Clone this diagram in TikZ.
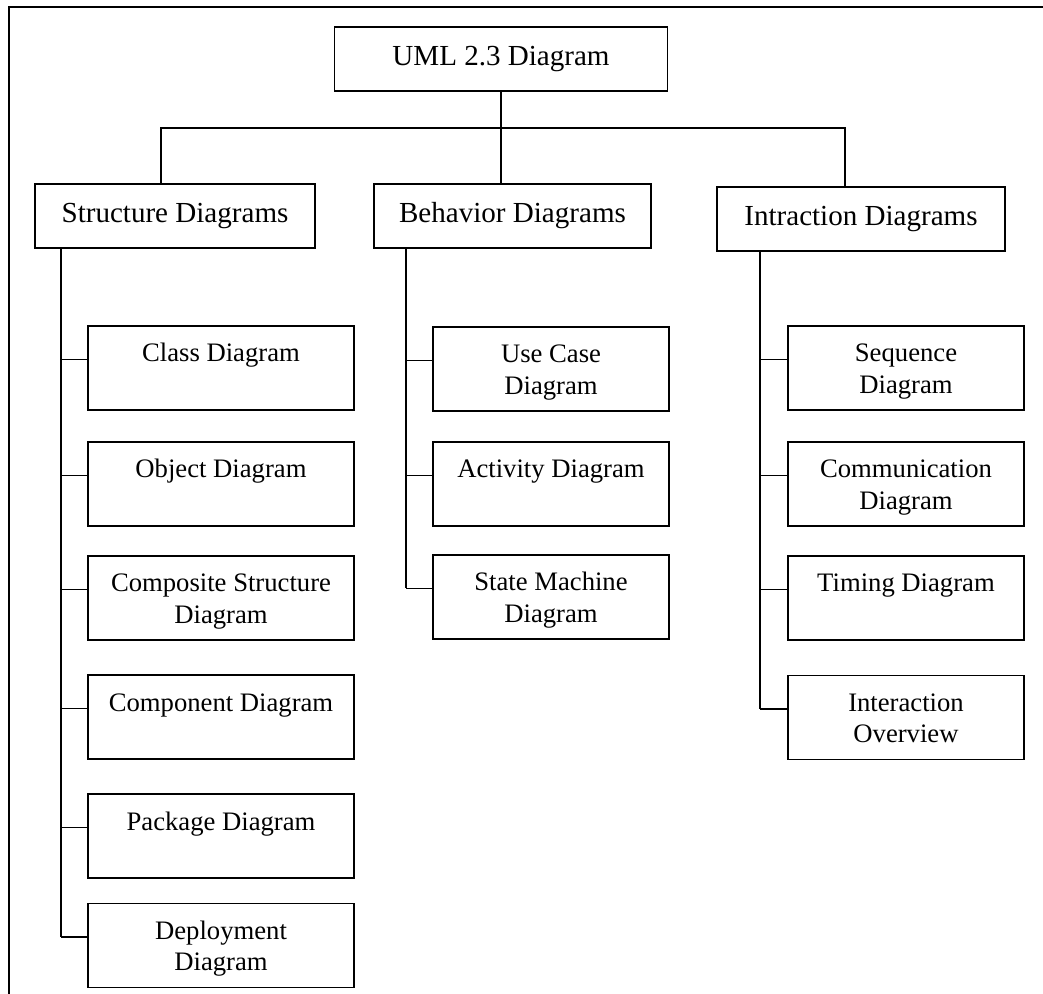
\documentclass[tikz,border=0pt]{standalone}
\usepackage{fontspec}
\setmainfont{Liberation Serif}
\usepackage{tikz}
\usetikzlibrary{
  positioning,
  calc
}
\tikzset{
  heading/.style={
    draw,
    line width=1.2pt,
    align=center,
    inner sep=0pt,
    minimum height=48pt,
    font=\fontsize{21.8}{25}\selectfont
  },
  leaf/.style={
    draw,
    line width=1.2pt,
    align=center,
    inner xsep=0pt,
    inner ysep=0pt,
    text height=27pt,
    text depth=36pt,
    font=\fontsize{20}{23.3}\selectfont
  },
  twolines/.style={
    text height=50.3pt,
    text depth=12.7pt
  },
  wideleaf/.style={
    leaf,
    minimum width=199.5pt
  },
  narrowleaf/.style={
    leaf,
    minimum width=177pt
  },
  branch/.style={
    line width=1.2pt
  },
  frame/.style={
    line width=1.4pt
  }
}

\begin{document}
\begin{tikzpicture}[x=0.75pt,y=-0.75pt]

  \useasboundingbox (0,0) rectangle (1043,994);

  % outer frame, cut off at right and bottom
  \draw[frame] (1043,7) -- (9,7) -- (9,994);

  % top level
  \node[heading, minimum width=249.75pt] at (501,59) (uml) {UML 2.3 Diagram};

  \node[heading, minimum width=210pt] at (175,216) (struct) {Structure Diagrams};
  \node[heading, minimum width=207.75pt] at (512.5,216) (behav) {Behavior Diagrams};
  \node[heading, minimum width=216pt] at (861,219) (intr) {Intraction Diagrams};

  \coordinate (barL) at (161,128);
  \coordinate (barR) at (845,128);

  \draw[branch] (uml.south) -- (uml.south |- behav.north);
  \draw[branch] (barL |- struct.north) -- (barL) -- (barR) -- (barR |- intr.north);

  % structure diagrams
  \node[wideleaf] at (221,368) (class) {Class Diagram};
  \node[wideleaf] at (221,484) (object) {Object Diagram};
  \node[wideleaf, twolines] at (221,598) (composite) {Composite Structure\\Diagram};
  \node[wideleaf] at (221,717) (component) {Component Diagram};
  \node[wideleaf] at (221,836) (package) {Package Diagram};
  \node[wideleaf, twolines] at (221,945.5) (deployment) {Deployment\\Diagram};

  % behavior diagrams
  \node[narrowleaf, twolines] at (551,369) (usecase) {Use Case\\Diagram};
  \node[narrowleaf] at (551,484) (activity) {Activity Diagram};
  \node[narrowleaf, twolines] at (551,597) (statemachine) {State Machine\\Diagram};

  % interaction diagrams
  \node[narrowleaf, twolines] at (906,368) (sequence) {Sequence\\Diagram};
  \node[narrowleaf, twolines] at (906,484) (communication) {Communication\\Diagram};
  \node[narrowleaf] at (906,598) (timing) {Timing Diagram};
  \node[narrowleaf, twolines] at (906,717.5) (overview) {Interaction\\Overview};

  % trunks
  \coordinate[right=20.25pt of struct.south west] (strunk);
  \coordinate[right=24.75pt of behav.south west] (btrunk);
  \coordinate[right=33pt of intr.south west] (itrunk);

  \foreach \leafname/\trunk in {
    class/strunk, object/strunk, composite/strunk,
    component/strunk, package/strunk, deployment/strunk,
    usecase/btrunk, activity/btrunk, statemachine/btrunk,
    sequence/itrunk, communication/itrunk, timing/itrunk, overview/itrunk%
  } {
    \coordinate (\leafname-in) at ($(\leafname.north west)!0.4!(\leafname.south west)$);
    \draw[branch] (\leafname-in) -- (\leafname-in -| \trunk);
  }

  \draw[branch] (strunk) -- (deployment-in -| strunk);
  \draw[branch] (btrunk) -- (statemachine-in -| btrunk);
  \draw[branch] (itrunk) -- (overview-in -| itrunk);

\end{tikzpicture}
\end{document}
